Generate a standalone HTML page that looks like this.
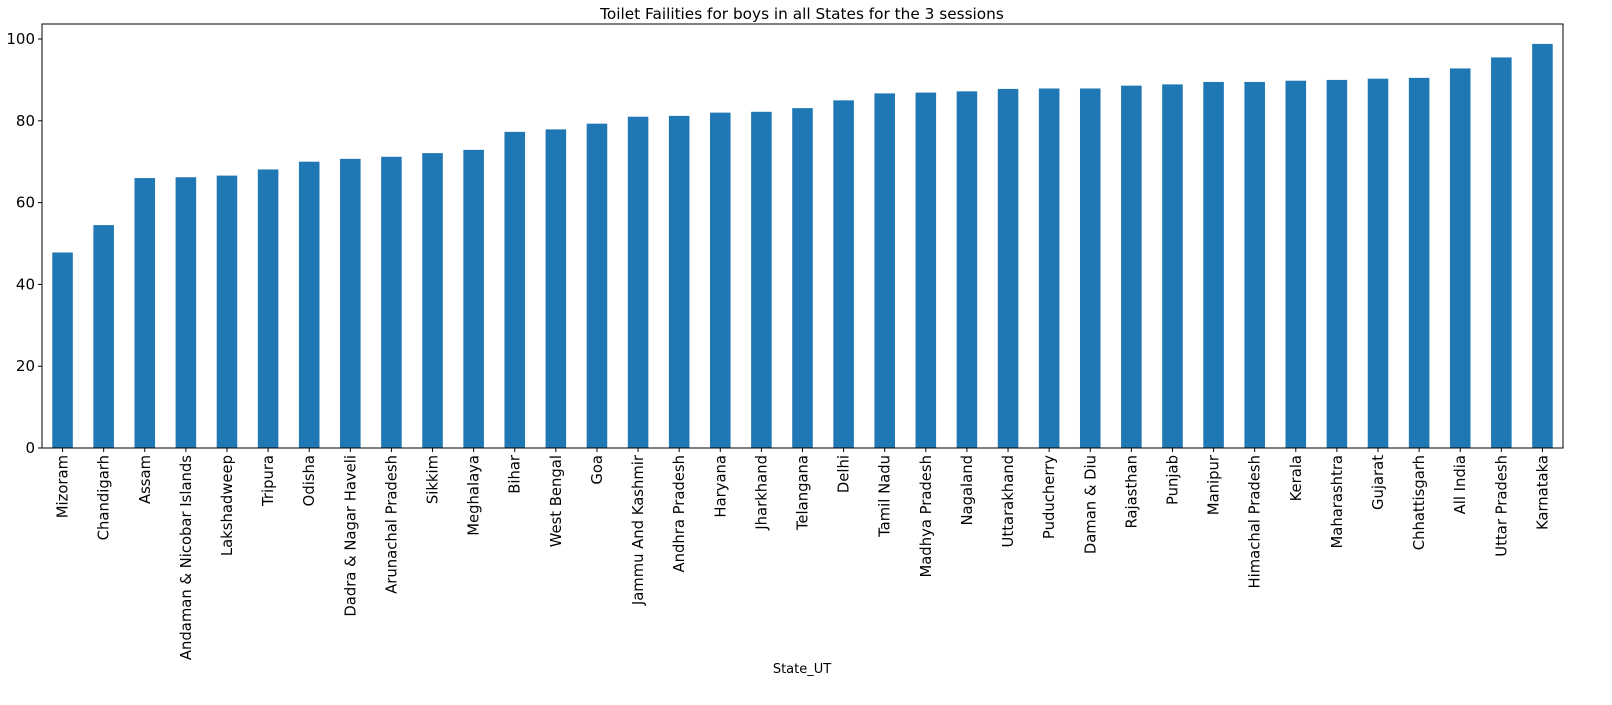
<!DOCTYPE html>
<html><head><meta charset="utf-8"><style>
body{margin:0;background:#fff;}
svg text{font-family:"DejaVu Sans","Liberation Sans",sans-serif;fill:#000;}
</style></head><body>
<svg id="chart" width="1612" height="700" xmlns="http://www.w3.org/2000/svg">
<text x="802" y="19" font-size="15.3" text-anchor="middle">Toilet Failities for boys in all States for the 3 sessions</text>
<text x="802" y="673" font-size="13" text-anchor="middle">State_UT</text>
<g id="plot"></g>
</svg>
<script>
const categories=["Mizoram","Chandigarh","Assam","Andaman & Nicobar Islands","Lakshadweep","Tripura","Odisha","Dadra & Nagar Haveli","Arunachal Pradesh","Sikkim","Meghalaya","Bihar","West Bengal","Goa","Jammu And Kashmir","Andhra Pradesh","Haryana","Jharkhand","Telangana","Delhi","Tamil Nadu","Madhya Pradesh","Nagaland","Uttarakhand","Puducherry","Daman & Diu","Rajasthan","Punjab","Manipur","Himachal Pradesh","Kerala","Maharashtra","Gujarat","Chhattisgarh","All India","Uttar Pradesh","Karnataka"];
const values=[47.8,54.5,66.0,66.2,66.6,68.1,70.0,70.7,71.2,72.1,72.9,77.3,77.9,79.3,81.0,81.2,82.0,82.2,83.1,85.0,86.7,86.9,87.2,87.8,87.9,87.9,88.6,88.9,89.5,89.5,89.8,90.0,90.3,90.5,92.8,95.5,98.8];
const yTicks=[0,20,40,60,80,100];
const L=42,R=1563,T=24,B=448;
const ns="http://www.w3.org/2000/svg";
const g=document.getElementById('plot');
const step=(R-L)/categories.length;
const x=i=>L+step*(i+0.5);
const y=v=>B-v*4.09;
function mk(t,a){const e=document.createElementNS(ns,t);for(const k in a)e.setAttribute(k,a[k]);g.appendChild(e);return e;}
values.forEach((v,i)=>{
 const r=mk('rect',{x:x(i)-step*0.25,y:y(v),width:step*0.5,height:B-y(v),fill:'#1f77b4'});
 
 
});
yTicks.forEach(t=>{
 const l=mk('line',{x1:L-4,x2:L,y1:y(t),y2:y(t),stroke:'#000'});
 
 
 const tx=mk('text',{x:L-7,y:y(t)+5,'font-size':15,'text-anchor':'end'});
 tx.textContent=t;
 
 
});
categories.forEach((c,i)=>{
 const l=mk('line',{x1:x(i),x2:x(i),y1:B,y2:B+4,stroke:'#000'});
 
 
 const tx=mk('text',{x:0,y:0,'font-size':14.8,'text-anchor':'end',transform:`translate(${x(i)+5},${B+7}) rotate(-90)`});
 tx.textContent=c;
 
 
});
const fr=mk('rect',{x:L,y:T,width:R-L,height:B-T,fill:'none',stroke:'#000','stroke-width':1});


</script>
</body></html>
